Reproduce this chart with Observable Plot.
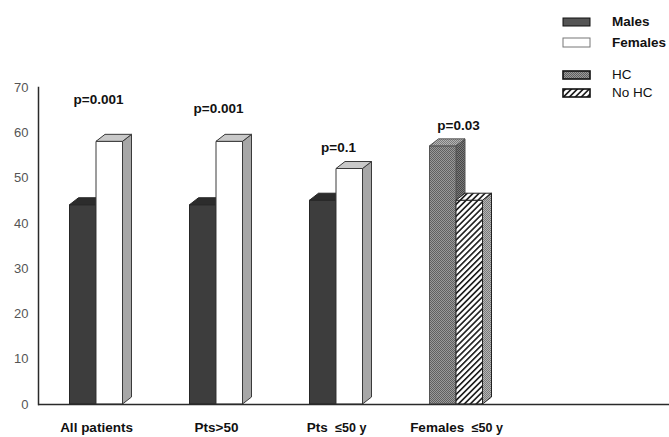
<!DOCTYPE html>
<html>
<head>
<meta charset="utf-8">
<script src="https://cdn.jsdelivr.net/npm/d3@7"></script>
<script src="https://cdn.jsdelivr.net/npm/@observablehq/plot@0.6"></script>
<style>
  html, body { margin: 0; padding: 0; background: #fff; }
  #chart svg { display: block; font-family: "Liberation Sans", Arial, sans-serif; }
</style>
</head>
<body>
<div id="chart"></div>
<script>
// ---- data ----
const categories = ["All patients", "Pts>50", "Pts ≤50 y", "Females ≤50 y"];
const leftSeries = ["Males", "Males", "Males", "HC"];
const rightSeries = ["Females", "Females", "Females", "No HC"];
const leftValues = [44, 44, 45, 57];
const rightValues = [58, 58, 52, 45];
const pLabels = ["p=0.001", "p=0.001", "p=0.1", "p=0.03"];
const pLabelY = [67.3, 65.3, 56.7, 61.6];
const legendItems = ["Males", "Females", "HC", "No HC"];
const yTicks = [0, 10, 20, 30, 40, 50, 60, 70];

// ---- styles ----
const styles = {
  "Males":   {front: "#3d3d3d", top: "#2c2c2c", side: "#2c2c2c", stroke: "#262626"},
  "Females": {front: "#ffffff", top: "#c9c9c9", side: "#a7a7a7", stroke: "#3a3a3a"},
  "HC":      {front: "url(#stip)", top: "url(#stipLight)", side: "url(#stipDark)", stroke: "#555"},
  "No HC":   {front: "url(#hatch)", top: "url(#hatch)", side: "url(#stipLight)", stroke: "#222"}
};

const bars = [];
categories.forEach((c, i) => {
  bars.push({cat: c, series: leftSeries[i], value: leftValues[i], side: "left"});
  bars.push({cat: c, series: rightSeries[i], value: rightValues[i], side: "right"});
});
const pData = categories.map((c, i) => ({cat: c, label: pLabels[i], y: pLabelY[i]}));

const barW = 26.5, depthX = 9, depthY = 7;

function bar3d(data) {
  return Plot.barY(data, {
    x: "cat", y: "value",
    render: (index, scales) => {
      const g = d3.create("svg:g");
      const bw = scales.x.bandwidth ? scales.x.bandwidth() : 120;
      for (const i of index) {
        const d = data[i];
        const c = scales.x(d.cat) + bw / 2;
        const x0 = d.side === "left" ? c - barW : c;
        const x1 = d.side === "left" ? c : c + barW;
        const yt = scales.y(d.value), y0 = scales.y(0);
        const s = styles[d.series];
        const gg = g.append("g").attr("stroke", s.stroke).attr("stroke-width", 1).attr("stroke-linejoin", "round");
        gg.append("polygon").attr("points", [[x1, yt], [x1 + depthX, yt - depthY], [x1 + depthX, y0 - depthY], [x1, y0]].join(" ")).attr("fill", s.side);
        gg.append("rect").attr("x", x0).attr("y", yt).attr("width", x1 - x0).attr("height", y0 - yt).attr("fill", s.front);
        gg.append("polygon").attr("points", [[x0, yt], [x0 + depthX, yt - depthY], [x1 + depthX, yt - depthY], [x1, yt]].join(" ")).attr("fill", s.top);
      }
      return g.node();
    }
  });
}

const plot = Plot.plot({
  width: 669,
  height: 437,
  marginLeft: 38,
  marginTop: 87,
  marginBottom: 33,
  marginRight: 0,
  style: {fontFamily: "'Liberation Sans', Arial, sans-serif", background: "#fff"},
  x: {type: "band", domain: categories, range: [36, 516], padding: 0, axis: null},
  y: {domain: [0, 70], ticks: yTicks},
  marks: [
    Plot.axisY({ticks: yTicks, tickSize: 0, tickPadding: 10, fontSize: 13, color: "#555", label: null}),
    bar3d(bars),
    Plot.frame({anchor: "left", stroke: "#2a2a2a", strokeWidth: 1.5}),
    Plot.ruleY([0], {stroke: "#2a2a2a", strokeWidth: 1.5}),
    Plot.text(pData, {x: "cat", y: "y", text: "label", dx: 2, fontSize: 13.5, fontWeight: "bold", fill: "#111"}),
    Plot.text(categories, {x: d => d, y: () => 0, text: d => d, dy: 23, fontSize: 13.5, fontWeight: "bold", fill: "#111", className: "catlabel"})
  ]
});

document.getElementById("chart").appendChild(plot);

const svg = d3.select(plot);

// patterns
const defs = svg.insert("defs", ":first-child");
function stipple(id, bg, dot) {
  const p = defs.append("pattern").attr("id", id).attr("width", 2).attr("height", 2).attr("patternUnits", "userSpaceOnUse");
  p.append("rect").attr("width", 2).attr("height", 2).attr("fill", bg);
  p.append("rect").attr("width", 1).attr("height", 1).attr("fill", dot);
  p.append("rect").attr("x", 1).attr("y", 1).attr("width", 1).attr("height", 1).attr("fill", dot);
}
stipple("stip", "#9a9a9a", "#606060");
stipple("stipLight", "#b5b5b5", "#7a7a7a");
stipple("stipDark", "#7a7a7a", "#474747");
const hp = defs.append("pattern").attr("id", "hatch").attr("width", 4.2).attr("height", 4.2)
  .attr("patternUnits", "userSpaceOnUse").attr("patternTransform", "rotate(45)");
hp.append("rect").attr("width", 4.2).attr("height", 4.2).attr("fill", "#fff");
hp.append("line").attr("x1", 0.8).attr("y1", 0).attr("x2", 0.8).attr("y2", 4.2).attr("stroke", "#1a1a1a").attr("stroke-width", 1.6);

// smaller "≤50 y" part in category labels
svg.selectAll("g.catlabel text, .catlabel text").each(function () {
  const t = d3.select(this);
  const s = t.text();
  const k = s.indexOf("≤");
  if (k >= 0) {
    t.text(null);
    t.append("tspan").text(s.slice(0, k) + " ");
    t.append("tspan").attr("font-size", 12.5).text(s.slice(k));
  }
});

// legend (top right)
const legendPos = [
  {y: 18, h: 8}, {y: 38, h: 9}, {y: 71, h: 8}, {y: 89, h: 8}
];
const lg = svg.append("g").attr("class", "legend").attr("text-anchor", "start");
legendItems.forEach((name, i) => {
  const st = styles[name];
  const p = legendPos[i];
  const fill = name === "Males" ? "#555" : st.front;
  lg.append("rect").attr("x", 563).attr("y", p.y).attr("width", 27).attr("height", p.h)
    .attr("fill", fill)
    .attr("stroke", name === "Females" ? "#777" : "#111")
    .attr("stroke-width", name === "HC" || name === "No HC" ? 1.6 : 1);
  lg.append("text").attr("x", 612).attr("y", p.y + p.h / 2 + 4)
    .attr("text-anchor", "start")
    .attr("font-size", 13.5)
    .attr("font-weight", i < 2 ? "bold" : "normal")
    .attr("fill", "#111")
    .text(name);
});
</script>
</body>
</html>
